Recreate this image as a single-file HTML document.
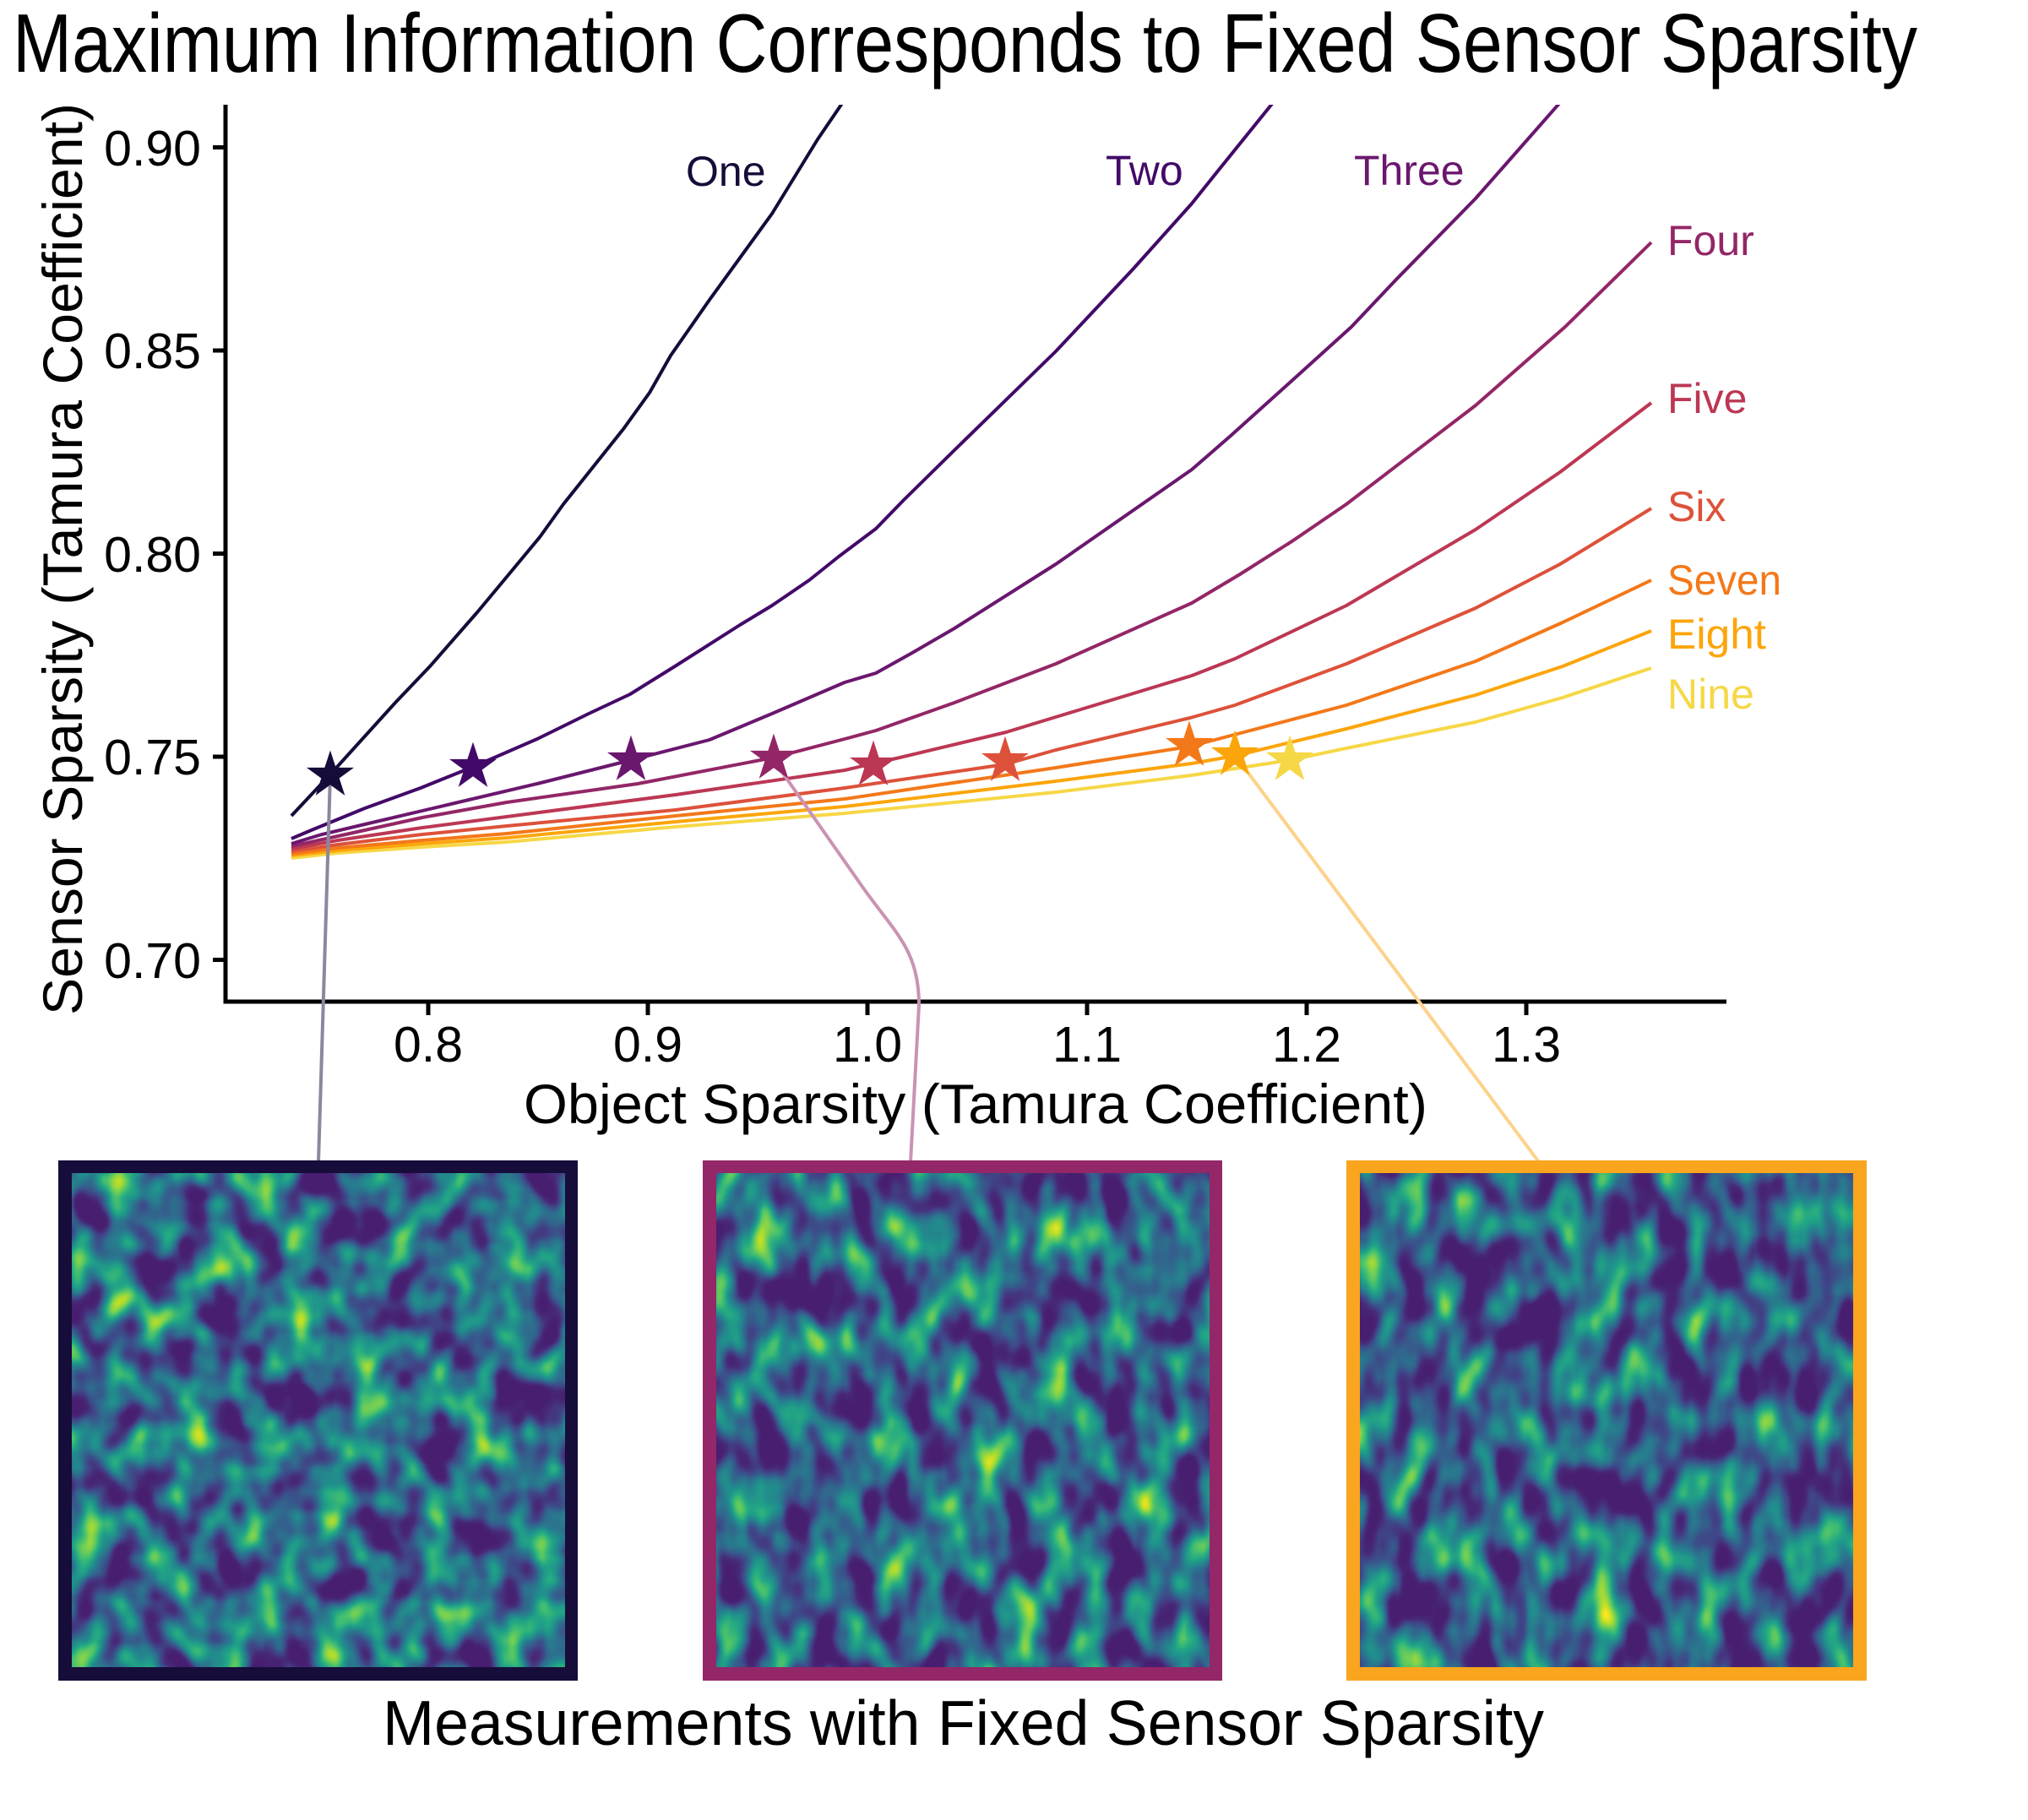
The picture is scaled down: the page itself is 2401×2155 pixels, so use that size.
<!DOCTYPE html>
<html>
<head>
<meta charset="utf-8">
<style>
  html,body{margin:0;padding:0;background:#ffffff;}
  svg{display:block;}
  text{font-family:"Liberation Sans", Arial, sans-serif;}
</style>
</head>
<body>
<svg width="2401" height="2155" viewBox="0 0 2401 2155" xmlns="http://www.w3.org/2000/svg">
  <defs>
    <clipPath id="plotclip">
      <rect x="267" y="124" width="1777" height="1062"/>
    </clipPath>
    <polygon id="star" points="0,-29.5 6.62,-9.12 28.06,-9.12 10.72,3.48 17.34,23.87 0,11.27 -17.34,23.87 -10.72,3.48 -28.06,-9.12 -6.62,-9.12"/>
    <filter id="hm1" x="0" y="0" width="1" height="1" color-interpolation-filters="sRGB">
      <feTurbulence type="fractalNoise" baseFrequency="0.024 0.019" numOctaves="2" seed="7"/>
      <feColorMatrix type="matrix" values="1 0 0 0 0  1 0 0 0 0  1 0 0 0 0  0 0 0 0 1"/>
      <feComponentTransfer>
        <feFuncR type="linear" slope="1.7" intercept="-0.5"/>
        <feFuncG type="linear" slope="1.7" intercept="-0.5"/>
        <feFuncB type="linear" slope="1.7" intercept="-0.5"/>
      </feComponentTransfer>
      <feComponentTransfer>
        <feFuncR type="table" tableValues="0.280 0.282 0.254 0.207 0.164 0.128 0.135 0.267 0.478 0.741 0.993"/>
        <feFuncG type="table" tableValues="0.120 0.160 0.265 0.372 0.471 0.567 0.659 0.749 0.821 0.873 0.906"/>
        <feFuncB type="table" tableValues="0.440 0.470 0.530 0.553 0.558 0.551 0.518 0.441 0.318 0.150 0.144"/>
      </feComponentTransfer>
    </filter>
    <filter id="hm2" x="0" y="0" width="1" height="1" color-interpolation-filters="sRGB">
      <feTurbulence type="fractalNoise" baseFrequency="0.026 0.016" numOctaves="2" seed="21"/>
      <feColorMatrix type="matrix" values="1 0 0 0 0  1 0 0 0 0  1 0 0 0 0  0 0 0 0 1"/>
      <feComponentTransfer>
        <feFuncR type="linear" slope="1.7" intercept="-0.52"/>
        <feFuncG type="linear" slope="1.7" intercept="-0.52"/>
        <feFuncB type="linear" slope="1.7" intercept="-0.52"/>
      </feComponentTransfer>
      <feComponentTransfer>
        <feFuncR type="table" tableValues="0.280 0.282 0.254 0.207 0.164 0.128 0.135 0.267 0.478 0.741 0.993"/>
        <feFuncG type="table" tableValues="0.120 0.160 0.265 0.372 0.471 0.567 0.659 0.749 0.821 0.873 0.906"/>
        <feFuncB type="table" tableValues="0.440 0.470 0.530 0.553 0.558 0.551 0.518 0.441 0.318 0.150 0.144"/>
      </feComponentTransfer>
    </filter>
    <filter id="hm3" x="0" y="0" width="1" height="1" color-interpolation-filters="sRGB">
      <feTurbulence type="fractalNoise" baseFrequency="0.026 0.015" numOctaves="2" seed="42"/>
      <feColorMatrix type="matrix" values="1 0 0 0 0  1 0 0 0 0  1 0 0 0 0  0 0 0 0 1"/>
      <feComponentTransfer>
        <feFuncR type="linear" slope="1.7" intercept="-0.54"/>
        <feFuncG type="linear" slope="1.7" intercept="-0.54"/>
        <feFuncB type="linear" slope="1.7" intercept="-0.54"/>
      </feComponentTransfer>
      <feComponentTransfer>
        <feFuncR type="table" tableValues="0.280 0.282 0.254 0.207 0.164 0.128 0.135 0.267 0.478 0.741 0.993"/>
        <feFuncG type="table" tableValues="0.120 0.160 0.265 0.372 0.471 0.567 0.659 0.749 0.821 0.873 0.906"/>
        <feFuncB type="table" tableValues="0.440 0.470 0.530 0.553 0.558 0.551 0.518 0.441 0.318 0.150 0.144"/>
      </feComponentTransfer>
    </filter>
  </defs>

  <rect x="0" y="0" width="2401" height="2155" fill="#ffffff"/>

  <!-- Title -->
  <text x="15" y="85" font-size="98" fill="#000" textLength="2255" lengthAdjust="spacingAndGlyphs">Maximum Information Corresponds to Fixed Sensor Sparsity</text>

  <!-- Curves -->
  <g clip-path="url(#plotclip)" fill="none" stroke-width="4" stroke-linejoin="round" stroke-linecap="butt">
    <polyline stroke="#f6d746" points="345,1016 400,1010 500,1003 600,997 800,979 1000,963 1250,938 1411,918 1527,900 1594,886 1747,855 1850,826 1955,791"/>
    <polyline stroke="#fca50a" points="345,1013 400,1007 500,999 600,992 800,973 1000,955 1250,925 1411,904 1462,895 1594,863 1747,823 1850,789 1955,747"/>
    <polyline stroke="#f37819" points="345,1011 400,1004 500,995 600,987 800,966 1000,946 1250,909 1408,884 1594,835 1747,783 1850,737 1955,687"/>
    <polyline stroke="#dd513a" points="345,1008 400,1000 500,988 600,978 800,959 1000,933 1190,905 1250,888 1409,850 1462,835 1594,786 1747,720 1847,668 1955,602"/>
    <polyline stroke="#bc3754" points="345,1005 400,995 500,980 600,967 800,941 1000,912 1034,904 1061,898 1191,867 1250,849 1411,800 1462,780 1594,717 1747,627 1847,559 1955,477"/>
    <polyline stroke="#932667" points="345,1002 391,992 500,968 600,950 755,928 916,897 1000,875 1037,865 1130,832 1250,786 1411,714 1468,680 1531,640 1594,597 1747,480 1853,387 1955,287"/>
    <polyline stroke="#6a176e" points="345,999 381,988 432,976 534,952 636,928 747,900 840,876 914,845 1000,808 1037,797 1080,773 1130,744 1250,668 1411,556 1457,516 1537,444 1600,387 1652,332 1747,235 1850,118"/>
    <polyline stroke="#420a68" points="345,993 371,982 432,957 498,933 560,908 636,875 697,845 746,822 799,789 876,740 914,717 958,687 993,659 1037,626 1070,592 1130,533 1250,416 1342,318 1411,241 1439,206 1510,118"/>
    <polyline stroke="#160b39" points="345,966 391,917 468,832 509,789 565,725 595,689 639,636 667,597 738,508 769,465 794,421 840,355 914,253 968,165 1000,118"/>
  </g>

  <!-- Axes -->
  <g stroke="#000" stroke-width="5" fill="none">
    <line x1="267" y1="124" x2="267" y2="1188.5"/>
    <line x1="264.5" y1="1186" x2="2044" y2="1186"/>
    <line x1="252" y1="174.5" x2="267" y2="174.5"/>
    <line x1="252" y1="415" x2="267" y2="415"/>
    <line x1="252" y1="655.5" x2="267" y2="655.5"/>
    <line x1="252" y1="896" x2="267" y2="896"/>
    <line x1="252" y1="1136.5" x2="267" y2="1136.5"/>
    <line x1="507" y1="1186" x2="507" y2="1202"/>
    <line x1="767" y1="1186" x2="767" y2="1202"/>
    <line x1="1027" y1="1186" x2="1027" y2="1202"/>
    <line x1="1287" y1="1186" x2="1287" y2="1202"/>
    <line x1="1547" y1="1186" x2="1547" y2="1202"/>
    <line x1="1807" y1="1186" x2="1807" y2="1202"/>
  </g>

  <!-- Y tick labels -->
  <g font-size="59" fill="#000" text-anchor="end">
    <text x="238" y="196">0.90</text>
    <text x="238" y="436">0.85</text>
    <text x="238" y="677">0.80</text>
    <text x="238" y="917">0.75</text>
    <text x="238" y="1158">0.70</text>
  </g>
  <!-- X tick labels -->
  <g font-size="59" fill="#000" text-anchor="middle">
    <text x="507" y="1257">0.8</text>
    <text x="767" y="1257">0.9</text>
    <text x="1027" y="1257">1.0</text>
    <text x="1287" y="1257">1.1</text>
    <text x="1547" y="1257">1.2</text>
    <text x="1807" y="1257">1.3</text>
  </g>

  <!-- Axis labels -->
  <text x="620" y="1330" font-size="66" fill="#000" textLength="1070" lengthAdjust="spacingAndGlyphs">Object Sparsity (Tamura Coefficient)</text>
  <text transform="translate(97,662) rotate(-90)" x="0" y="0" font-size="66" fill="#000" text-anchor="middle" textLength="1080" lengthAdjust="spacingAndGlyphs">Sensor Sparsity (Tamura Coefficient)</text>

  <!-- Curve labels -->
  <g font-size="50">
    <text x="812" y="220" fill="#160b39">One</text>
    <text x="1309" y="219" fill="#420a68">Two</text>
    <text x="1603" y="219" fill="#6a176e">Three</text>
    <text x="1974" y="302" fill="#932667">Four</text>
    <text x="1974" y="489" fill="#bc3754">Five</text>
    <text x="1974" y="617" fill="#dd513a">Six</text>
    <text x="1974" y="704" fill="#f37819" textLength="135" lengthAdjust="spacingAndGlyphs">Seven</text>
    <text x="1974" y="768" fill="#fca50a" textLength="117" lengthAdjust="spacingAndGlyphs">Eight</text>
    <text x="1974" y="839" fill="#f6d746">Nine</text>
  </g>

  <!-- Connectors -->
  <g fill="none" stroke-width="4">
    <line x1="391" y1="918" x2="377" y2="1376" stroke="#8b879d"/>
    <path d="M916,900 L1021,1050 C1060,1105 1088,1125 1088,1190 L1078,1376" stroke="#c993b3"/>
    <line x1="1462" y1="894" x2="1822" y2="1376" stroke="#fdd28a"/>
  </g>

  <!-- Stars -->
  <use href="#star" x="391" y="918" fill="#160b39"/>
  <use href="#star" x="560" y="908" fill="#420a68"/>
  <use href="#star" x="747" y="900" fill="#6a176e"/>
  <use href="#star" x="916" y="898" fill="#932667"/>
  <use href="#star" x="1034" y="906" fill="#bc3754"/>
  <use href="#star" x="1190" y="901" fill="#dd513a"/>
  <use href="#star" x="1408" y="883" fill="#f37819"/>
  <use href="#star" x="1462" y="894" fill="#fca50a"/>
  <use href="#star" x="1527" y="900" fill="#f6d746"/>

  <!-- Measurement frames -->
  <rect x="69" y="1374" width="615" height="616" fill="#170d3a"/>
  <rect x="85" y="1389" width="584" height="585" fill="#2a788e" filter="url(#hm1)"/>

  <rect x="832" y="1374" width="615" height="616" fill="#942767"/>
  <rect x="848" y="1389" width="584" height="585" fill="#2a788e" filter="url(#hm2)"/>

  <rect x="1594" y="1374" width="616" height="616" fill="#faa51e"/>
  <rect x="1610" y="1389" width="584" height="585" fill="#2a788e" filter="url(#hm3)"/>

  <!-- Bottom title -->
  <text x="453" y="2066" font-size="75" fill="#000" textLength="1375" lengthAdjust="spacingAndGlyphs">Measurements with Fixed Sensor Sparsity</text>
</svg>
</body>
</html>
